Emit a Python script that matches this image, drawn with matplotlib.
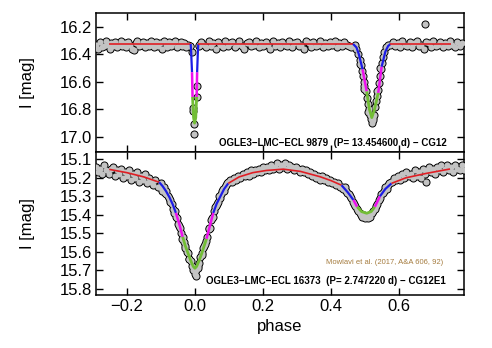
import matplotlib
matplotlib.use('Agg')
import matplotlib.pyplot as plt

plt.rcParams['font.family'] = ['Liberation Sans', 'DejaVu Sans']

# ---- OGLE3-LMC-ECL 9879 (top panel) observations ----
top_phase = [
    -0.290, -0.284, -0.279, -0.273, -0.268, -0.262, -0.257, -0.251, -0.246, -0.240,
    -0.235, -0.229, -0.224, -0.218, -0.213, -0.207, -0.202, -0.196, -0.191, -0.185,
    -0.180, -0.174, -0.169, -0.163, -0.158, -0.152, -0.147, -0.141, -0.136, -0.130,
    -0.125, -0.119, -0.114, -0.108, -0.103, -0.097, -0.092, -0.086, -0.081, -0.075,
    -0.070, -0.064, -0.059, -0.053, -0.048, -0.042, -0.037, -0.031, -0.026, -0.020,
    -0.015,
    # primary eclipse
    -0.013, -0.008, 0.005, 0.005, -0.005, -0.005, -0.002, -0.002, 0.011,
    # between eclipses
    0.012, 0.019, 0.026, 0.033, 0.040, 0.047, 0.054, 0.061, 0.068, 0.075,
    0.082, 0.089, 0.096, 0.103, 0.110, 0.117, 0.124, 0.131, 0.138, 0.145,
    0.152, 0.159, 0.166, 0.173, 0.180, 0.187, 0.194, 0.201, 0.208, 0.215,
    0.222, 0.229, 0.236, 0.243, 0.250, 0.257, 0.264, 0.271, 0.278, 0.285,
    0.292, 0.299, 0.306, 0.313, 0.320, 0.327, 0.334, 0.341, 0.348, 0.355,
    0.362, 0.369, 0.376, 0.383, 0.390, 0.397, 0.404, 0.411, 0.418, 0.425,
    0.432, 0.439, 0.446, 0.453, 0.460,
    # secondary eclipse
    0.470, 0.475, 0.480, 0.484, 0.487, 0.490, 0.493, 0.496, 0.498, 0.502,
    0.506, 0.509, 0.512, 0.515, 0.518, 0.520, 0.523, 0.526, 0.529, 0.532,
    0.535, 0.538, 0.541, 0.544, 0.547, 0.550, 0.553, 0.557, 0.562, 0.568,
    0.485, 0.497, 0.510, 0.525, 0.536, 0.545,
    # after secondary
    0.575, 0.582, 0.589, 0.596, 0.603, 0.610, 0.617, 0.624, 0.631, 0.638,
    0.645, 0.652, 0.659, 0.666, 0.673, 0.680, 0.687, 0.694, 0.701, 0.708,
    0.715, 0.722, 0.729, 0.736, 0.743, 0.750, 0.757, 0.764, 0.771, 0.778,
    0.785, 0.676,
]
top_mag = [
    16.33, 16.36, 16.31, 16.35, 16.34, 16.30, 16.33, 16.36, 16.32, 16.34,
    16.31, 16.35, 16.33, 16.30, 16.34, 16.32, 16.35, 16.31, 16.33, 16.36,
    16.37, 16.32, 16.30, 16.34, 16.33, 16.31, 16.35, 16.32, 16.34, 16.30,
    16.33, 16.35, 16.31, 16.34, 16.32, 16.36, 16.30, 16.33, 16.35, 16.31,
    16.34, 16.32, 16.30, 16.35, 16.33, 16.31, 16.34, 16.32, 16.35, 16.33,
    16.34,
    16.34, 16.38, 16.63, 16.71, 16.79, 16.81, 16.91, 16.98, 16.33,
    16.34, 16.31, 16.33, 16.35, 16.30, 16.34, 16.32, 16.36, 16.31, 16.33,
    16.35, 16.30, 16.34, 16.32, 16.31, 16.35, 16.33, 16.30, 16.34, 16.36,
    16.32, 16.31, 16.34, 16.33, 16.30, 16.35, 16.32, 16.34, 16.31, 16.33,
    16.36, 16.30, 16.34, 16.32, 16.35, 16.31, 16.33, 16.34, 16.30, 16.35,
    16.32, 16.31, 16.34, 16.33, 16.36, 16.30, 16.32, 16.35, 16.31, 16.34,
    16.33, 16.30, 16.35, 16.32, 16.34, 16.31, 16.33, 16.30, 16.35, 16.32,
    16.34, 16.31, 16.33, 16.34, 16.35,
    16.33, 16.36, 16.40, 16.44, 16.48, 16.52, 16.56, 16.60, 16.63, 16.67,
    16.72, 16.76, 16.80, 16.84, 16.87, 16.90, 16.88, 16.84, 16.78, 16.74,
    16.70, 16.66, 16.61, 16.56, 16.51, 16.46, 16.42, 16.38, 16.35, 16.33,
    16.47, 16.65, 16.82, 16.86, 16.67, 16.50,
    16.33, 16.31, 16.34, 16.32, 16.35, 16.30, 16.33, 16.34, 16.31, 16.35,
    16.32, 16.30, 16.34, 16.33, 16.36, 16.31, 16.32, 16.35, 16.30, 16.34,
    16.33, 16.31, 16.35, 16.32, 16.34, 16.30, 16.33, 16.35, 16.31, 16.34,
    16.32, 16.18,
]

# model curve (zone = part of eclipse the segment starting at that node belongs to)
top_model_phase = [-0.252, -0.0125, -0.0115, -0.0085, -0.0070, -0.0040, -0.0010, 0.0025,
                   0.0050, 0.0065, 0.0090, 0.0100, 0.465, 0.475, 0.482, 0.493, 0.505,
                   0.513, 0.520, 0.528, 0.539, 0.549, 0.560, 0.568, 0.575, 0.752]
top_model_mag = [16.325, 16.325, 16.36, 16.53, 16.71, 16.86, 16.90, 16.86,
                 16.71, 16.53, 16.36, 16.325, 16.325, 16.35, 16.40, 16.51, 16.67,
                 16.80, 16.86, 16.80, 16.68, 16.49, 16.38, 16.34, 16.325, 16.325]
top_model_zone = ['out', 'wing', 'wing', 'mid', 'core', 'core', 'core', 'core',
                  'mid', 'wing', 'wing', 'out', 'wing', 'wing', 'wing', 'mid', 'core',
                  'core', 'core', 'core', 'mid', 'wing', 'wing', 'wing', 'out', 'out']

# ---- OGLE3-LMC-ECL 16373 (bottom panel) observations ----
bot_phase = [
    -0.290, -0.284, -0.278, -0.272, -0.266, -0.260, -0.254, -0.248, -0.242, -0.236,
    -0.230, -0.224, -0.218, -0.212, -0.206, -0.200, -0.194, -0.188, -0.182, -0.176,
    -0.170, -0.164, -0.158, -0.152, -0.146, -0.140, -0.134, -0.128, -0.122, -0.116,
    -0.110,
    # primary eclipse
    -0.104, -0.100, -0.096, -0.092, -0.088, -0.084, -0.080, -0.076, -0.072, -0.068,
    -0.064, -0.060, -0.056, -0.052, -0.048, -0.044, -0.040, -0.036, -0.032, -0.028,
    -0.024, -0.020, -0.016, -0.012, -0.008, -0.004, 0.000, 0.004, 0.008, 0.012,
    0.016, 0.020, 0.024, 0.028, 0.032, 0.036, 0.040, 0.044, 0.048, 0.052,
    0.056, 0.060, 0.064, 0.068, 0.072, 0.076, 0.080, 0.084, 0.088, 0.092,
    0.096, 0.100,
    -0.098, -0.086, -0.074, -0.062, -0.050, -0.038, -0.030, -0.018, -0.006, 0.002,
    0.010, 0.022, 0.030, 0.042, 0.050, 0.062, 0.074, 0.086, 0.094,
    # maximum
    0.104, 0.110, 0.116, 0.122, 0.128, 0.134, 0.140, 0.146, 0.152, 0.158,
    0.164, 0.170, 0.176, 0.182, 0.188, 0.194, 0.200, 0.206, 0.212, 0.218,
    0.224, 0.230, 0.236, 0.242, 0.248, 0.254, 0.260, 0.266, 0.272, 0.278,
    0.284, 0.290, 0.296, 0.302, 0.308, 0.314, 0.320, 0.326, 0.332, 0.338,
    0.344, 0.350, 0.356, 0.362, 0.368, 0.374, 0.380, 0.386, 0.392, 0.398,
    0.404, 0.410, 0.416, 0.422, 0.428,
    # secondary eclipse
    0.432, 0.436, 0.440, 0.444, 0.448, 0.452, 0.456, 0.460, 0.464, 0.468,
    0.472, 0.476, 0.480, 0.484, 0.488, 0.492, 0.496, 0.500, 0.504, 0.508,
    0.512, 0.516, 0.520, 0.524, 0.528, 0.532, 0.536, 0.540, 0.544, 0.548,
    0.552, 0.556, 0.560, 0.564, 0.568, 0.572, 0.576,
    # after secondary
    0.580, 0.586, 0.592, 0.598, 0.604, 0.610, 0.616, 0.622, 0.628, 0.634,
    0.640, 0.646, 0.652, 0.658, 0.664, 0.670, 0.676, 0.682, 0.688, 0.694,
    0.700, 0.706, 0.712, 0.718, 0.724, 0.730, 0.736, 0.742, 0.748, 0.754,
    0.760, 0.766, 0.772, 0.778, 0.784, 0.790, 0.680,
]
bot_mag = [
    15.14, 15.17, 15.15, 15.18, 15.13, 15.16, 15.18, 15.15, 15.14, 15.19,
    15.16, 15.18, 15.15, 15.20, 15.17, 15.19, 15.16, 15.21, 15.18, 15.20,
    15.17, 15.22, 15.19, 15.21, 15.18, 15.23, 15.20, 15.22, 15.24, 15.21,
    15.25,
    15.25, 15.23, 15.26, 15.25, 15.28, 15.27, 15.30, 15.31, 15.33, 15.34,
    15.37, 15.38, 15.41, 15.42, 15.46, 15.47, 15.50, 15.52, 15.55, 15.57,
    15.60, 15.61, 15.64, 15.65, 15.68, 15.69, 15.72, 15.70, 15.68, 15.66,
    15.63, 15.62, 15.58, 15.57, 15.54, 15.52, 15.48, 15.47, 15.43, 15.41,
    15.38, 15.36, 15.34, 15.33, 15.30, 15.29, 15.27, 15.26, 15.25, 15.24,
    15.22, 15.22,
    15.27, 15.29, 15.32, 15.39, 15.45, 15.53, 15.58, 15.64, 15.70, 15.73,
    15.69, 15.61, 15.56, 15.47, 15.42, 15.35, 15.31, 15.27, 15.23,
    15.21, 15.22, 15.20, 15.21, 15.19, 15.20, 15.18, 15.19, 15.17, 15.19,
    15.16, 15.18, 15.16, 15.17, 15.15, 15.17, 15.14, 15.16, 15.14, 15.16,
    15.13, 15.15, 15.14, 15.12, 15.15, 15.13, 15.14, 15.12, 15.15, 15.13,
    15.14, 15.16, 15.14, 15.15, 15.17, 15.15, 15.17, 15.16, 15.18, 15.17,
    15.19, 15.18, 15.20, 15.19, 15.21, 15.19, 15.21, 15.20, 15.22, 15.21,
    15.23, 15.22, 15.24, 15.23, 15.25,
    15.25, 15.26, 15.25, 15.27, 15.28, 15.29, 15.30, 15.31, 15.33, 15.34,
    15.35, 15.37, 15.38, 15.39, 15.40, 15.41, 15.40, 15.42, 15.41, 15.42,
    15.40, 15.41, 15.39, 15.38, 15.37, 15.35, 15.34, 15.32, 15.31, 15.29,
    15.28, 15.27, 15.25, 15.26, 15.24, 15.23, 15.22,
    15.22, 15.20, 15.21, 15.19, 15.21, 15.18, 15.20, 15.17, 15.19, 15.18,
    15.20, 15.16, 15.19, 15.17, 15.20, 15.15, 15.18, 15.16, 15.14, 15.17,
    15.15, 15.18, 15.14, 15.16, 15.13, 15.17, 15.15, 15.13, 15.16, 15.14,
    15.17, 15.13, 15.15, 15.16, 15.13, 15.16, 15.22,
]

bot_model_phase = [-0.252, -0.20, -0.15, -0.105, -0.095, -0.085, -0.075, -0.065, -0.056,
                   -0.046, -0.036, -0.028, -0.020, -0.012, -0.005, 0.000, 0.005, 0.012,
                   0.020, 0.027, 0.034, 0.044, 0.054, 0.064, 0.075, 0.086, 0.098, 0.13,
                   0.17, 0.21, 0.26, 0.31, 0.368, 0.40, 0.431, 0.45, 0.466, 0.477, 0.49,
                   0.505, 0.518, 0.529, 0.544, 0.56, 0.578, 0.62, 0.68, 0.75]
bot_model_mag = [15.154, 15.172, 15.195, 15.224, 15.245, 15.272, 15.305, 15.345, 15.39,
                 15.45, 15.52, 15.57, 15.61, 15.65, 15.68, 15.69, 15.68, 15.65,
                 15.61, 15.57, 15.53, 15.46, 15.39, 15.34, 15.30, 15.26, 15.23, 15.195,
                 15.172, 15.16, 15.153, 15.165, 15.194, 15.215, 15.24, 15.28, 15.32, 15.357, 15.383,
                 15.392, 15.383, 15.357, 15.30, 15.26, 15.23, 15.20, 15.176, 15.152]
bot_model_zone = ['out', 'out', 'out', 'wing', 'wing', 'wing', 'wing', 'wing', 'mid',
                  'mid', 'core', 'core', 'core', 'core', 'core', 'core', 'core', 'core',
                  'core', 'core', 'mid', 'mid', 'wing', 'wing', 'wing', 'wing', 'out', 'out',
                  'out', 'out', 'out', 'out', 'out', 'out', 'wing', 'wing', 'mid', 'core', 'core',
                  'core', 'core', 'mid', 'wing', 'wing', 'out', 'out', 'out', 'out']

zone_colors = {'out': '#e01e24', 'wing': '#1c1ce6', 'mid': '#ee10ee', 'core': '#72bd36'}
zone_width = {'out': 1.2, 'wing': 1.6, 'mid': 1.8, 'core': 2.0}


def draw_points(ax, phase, mag):
    # black disks underneath, grey disks on top -> outlined band
    ax.plot(phase, mag, 'o', ls='none', ms=5.8, mew=0, color='black', zorder=2)
    ax.plot(phase, mag, 'o', ls='none', ms=4.4, mew=0, color='#c3c3c3', zorder=3)


def draw_model(ax, phase, mag, zone):
    start = 0
    for i in range(1, len(phase)):
        if i == len(phase) - 1 or zone[i] != zone[start]:
            ax.plot(phase[start:i + 1], mag[start:i + 1], color=zone_colors[zone[start]],
                    lw=zone_width[zone[start]], zorder=4, solid_capstyle='butt')
            start = i


fig = plt.figure(figsize=(4.92, 3.48), dpi=100)
ax1 = fig.add_axes([0.195, 0.5632, 0.748, 0.3994])
ax2 = fig.add_axes([0.195, 0.1523, 0.748, 0.4109])

draw_points(ax1, top_phase, top_mag)
draw_model(ax1, top_model_phase, top_model_mag, top_model_zone)
draw_points(ax2, bot_phase, bot_mag)
draw_model(ax2, bot_model_phase, bot_model_mag, bot_model_zone)

for ax in (ax1, ax2):
    ax.set_xlim(-0.291, 0.791)
    ax.set_xticks([-0.2, 0.0, 0.2, 0.4, 0.6])
    ax.tick_params(direction='in', top=True, right=True, length=5, width=1,
                   labelsize=12, pad=3)
    for s in ax.spines.values():
        s.set_linewidth(1.1)
    ax.set_ylabel('I [mag]', fontsize=12)
    ax.yaxis.set_label_coords(-0.166, 0.5)

ax1.set_ylim(17.11, 16.10)
ax1.set_yticks([16.2, 16.4, 16.6, 16.8, 17.0])
ax1.tick_params(labelbottom=False)
ax2.set_ylim(15.835, 15.06)
ax2.set_yticks([15.1, 15.2, 15.3, 15.4, 15.5, 15.6, 15.7, 15.8])
ax2.set_xticklabels(['\u22120.2', '0.0', '0.2', '0.4', '0.6'])
ax2.set_xlabel('phase', fontsize=12)
ax2.xaxis.set_label_coords(0.5, -0.165)

ax1.text(0.954, 0.045, 'OGLE3\u2212LMC\u2212ECL 9879  (P= 13.454600 d) \u2212 CG12',
         transform=ax1.transAxes, ha='right', va='baseline', fontsize=7,
         fontweight='bold')
ax2.text(0.951, 0.077, 'OGLE3\u2212LMC\u2212ECL 16373  (P= 2.747220 d) \u2212 CG12E1',
         transform=ax2.transAxes, ha='right', va='baseline', fontsize=7,
         fontweight='bold')
ax2.text(0.943, 0.226, 'Mowlavi et al. (2017, A&A 606, 92)', transform=ax2.transAxes,
         ha='right', va='center', fontsize=5.5, color='#a57c3f')

fig.savefig('out.png', dpi=100)
